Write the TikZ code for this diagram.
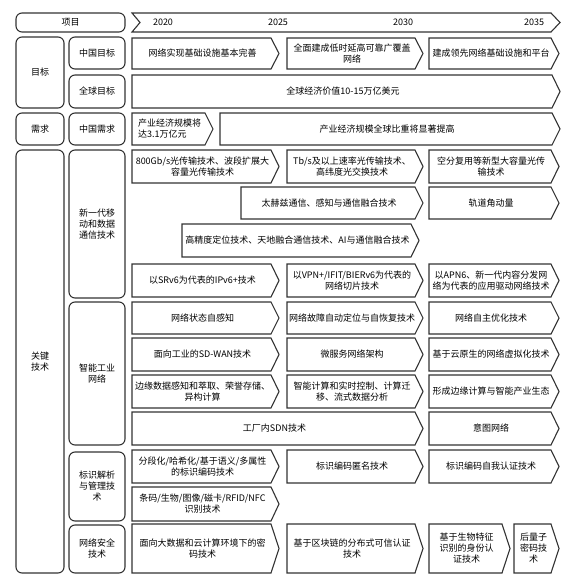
\documentclass[tikz,border=0pt]{standalone}
\usepackage{fontspec}
\setmainfont{Noto Sans CJK SC}
\definecolor{ln}{HTML}{333333}
\tikzset{
  chev/.style={draw=ln, line width=1.1pt, line join=miter},
  rbox/.style={draw=ln, line width=1.1pt, rounded corners=6pt, inner sep=0pt, align=center, font=\fontsize{9}{11}\selectfont},
  ctext/.style={align=center, inner sep=0pt, font=\fontsize{9}{11}\selectfont, text=black},
  yr/.style={inner sep=0pt, font=\fontsize{9}{11}\selectfont}
}
\newcommand{\chv}[6]{%
  \draw[chev] (#2,#3) -- ({#4-8},#3) -- (#4,{(#3+#5)/2}) -- ({#4-8},#5) -- (#2,#5) -- cycle;
  \node[ctext] (#1) at ({(#2+#4)/2-3},{(#3+#5)/2}) {#6};}
\begin{document}
\begin{tikzpicture}[x=1pt,y=-1pt]
\useasboundingbox (0,0) rectangle (577,588);
% header
\node[rbox, minimum width=109pt, minimum height=19pt] (xm) at (70.5,22.5) {项目};
\draw[chev] (132,13) -- (551,13) -- (560,22.5) -- (551,32) -- (132,32) -- (140,22.5) -- cycle;
\node[yr] (y1) at (163,22.5) {2020};
\node[yr] (y2) at (278,22.5) {2025};
\node[yr] (y3) at (403,22.5) {2030};
\node[yr] (y4) at (534,22.5) {2035};
% goals
\node[rbox, minimum width=48pt, minimum height=71pt] (mb) at (40,72.5) {目标};
\node[rbox, minimum width=56pt, minimum height=32pt] (zgmb) at (97,53) {中国目标};
\node[rbox, minimum width=56pt, minimum height=33pt] (qqmb) at (97,91.5) {全球目标};
\chv{g1}{132}{38}{279}{69}{网络实现基础设施基本完善}
\chv{g2}{287}{38}{423}{69}{全面建成低时延高可靠广覆盖\\网络}
\chv{g3}{429}{38}{559}{69}{建成领先网络基础设施和平台}
\chv{g4}{132}{75}{560}{108}{全球经济价值10-15万亿美元}
% demand
\node[rbox, minimum width=48pt, minimum height=32pt] (xq) at (40,129) {需求};
\node[rbox, minimum width=56pt, minimum height=32pt] (zgxq) at (97,129) {中国需求};
\draw[chev] (132,113) -- (205,113) -- (213,129) -- (205,145) -- (132,145) -- cycle;
\node[ctext, align=left, anchor=west] (d1) at (138,129) {产业经济规模将\\达3.1万亿元};
\chv{d2}{220}{113}{560}{145}{产业经济规模全球比重将显著提高}
% key tech
\node[rbox, minimum width=48pt, minimum height=423pt] (gj) at (40,361.5) {关键\\技术};
\node[rbox, minimum width=56pt, minimum height=148pt] (xyd) at (97,224) {新一代移\\动和数据\\通信技术};
\chv{n1}{132}{150}{279}{183}{800Gb/s光传输技术、波段扩展大\\容量光传输技术}
\chv{n2}{287}{150}{423}{183}{Tb/s及以上速率光传输技术、\\高纬度光交换技术}
\chv{n3}{429}{150}{559}{183}{空分复用等新型大容量光传\\输技术}
\chv{n4}{241}{187}{423}{219}{太赫兹通信、感知与通信融合技术}
\chv{n5}{429}{187}{559}{219}{轨道角动量}
\chv{n6}{182}{224}{419}{257}{高精度定位技术、天地融合通信技术、AI与通信融合技术}
\chv{n7}{132}{264}{279}{297}{以SRv6为代表的IPv6+技术}
\chv{n8}{287}{264}{423}{297}{以VPN+/IFIT/BIERv6为代表的\\网络切片技术}
\chv{n9}{429}{264}{559}{297}{以APN6、新一代内容分发网\\络为代表的应用驱动网络技术}
% smart industrial network
\node[rbox, minimum width=56pt, minimum height=143pt] (zn) at (97,373.5) {智能工业\\网络};
\chv{s1}{132}{302}{279}{334}{网络状态自感知}
\chv{s2}{287}{302}{423}{334}{网络故障自动定位与自恢复技术}
\chv{s3}{429}{302}{559}{334}{网络自主优化技术}
\chv{s4}{132}{338}{279}{371}{面向工业的SD-WAN技术}
\chv{s5}{287}{338}{423}{371}{微服务网络架构}
\chv{s6}{429}{338}{559}{371}{基于云原生的网络虚拟化技术}
\chv{s7}{132}{375}{279}{408}{边缘数据感知和萃取、荣誉存储、\\异构计算}
\chv{s8}{287}{375}{423}{408}{智能计算和实时控制、计算迁\\移、流式数据分析}
\chv{s9}{429}{375}{559}{408}{形成边缘计算与智能产业生态}
\chv{s10}{132}{412}{423}{445}{工厂内SDN技术}
\chv{s11}{429}{412}{559}{445}{意图网络}
% identification
\node[rbox, minimum width=56pt, minimum height=69pt] (bs) at (97,486.5) {标识解析\\与管理技\\术};
\chv{b1}{132}{450}{279}{483}{分段化/哈希化/基于语义/多属性\\的标识编码技术}
\chv{b2}{287}{450}{423}{483}{标识编码匿名技术}
\chv{b3}{429}{450}{559}{483}{标识编码自我认证技术}
\chv{b4}{132}{487}{279}{521}{条码/生物/图像/磁卡/RFID/NFC\\识别技术}
% security
\node[rbox, minimum width=56pt, minimum height=48pt] (aq) at (97,549) {网络安全\\技术};
\chv{a1}{132}{524}{279}{573}{面向大数据和云计算环境下的密\\码技术}
\chv{a2}{287}{524}{423}{573}{基于区块链的分布式可信认证\\技术}
\chv{a3}{429}{524}{510}{573}{基于生物特征\\识别的身份认\\证技术}
\chv{a4}{514}{524}{559}{573}{后量子\\密码技\\术}
\end{tikzpicture}
\end{document}
